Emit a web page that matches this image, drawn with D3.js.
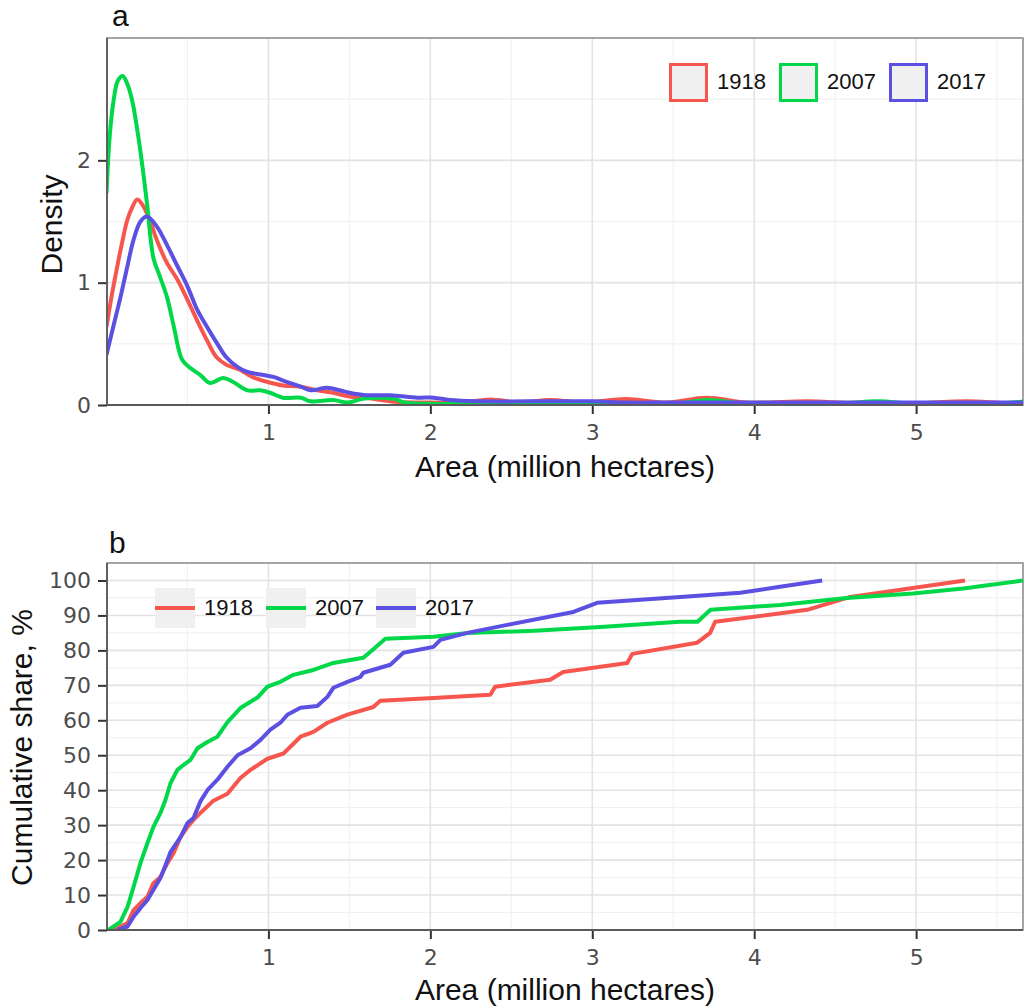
<!DOCTYPE html>
<html>
<head>
<meta charset="utf-8">
<script src="https://cdn.jsdelivr.net/npm/d3@7"></script>
<style>
  html, body { margin: 0; padding: 0; background: #fff; }
  svg { display: block; }
</style>
</head>
<body>
<svg id="chart" width="1025" height="1007"></svg>
<script>
// ---------------- DATA ----------------
const years = ["1918", "2007", "2017"];

// Panel a: density curves [area (million ha), density]
const density1918 = [[0,0.64],[0.033,0.9],[0.066,1.13],[0.1,1.35],[0.128,1.51],[0.16,1.62],[0.19,1.68],[0.23,1.62],[0.27,1.5],[0.31,1.35],[0.37,1.17],[0.44,1.02],[0.5,0.86],[0.56,0.69],[0.62,0.53],[0.68,0.39],[0.74,0.33],[0.82,0.29],[0.9,0.23],[0.99,0.19],[1.09,0.16],[1.2,0.15],[1.3,0.12],[1.4,0.1],[1.5,0.07],[1.6,0.06],[1.7,0.04],[1.8,0.025],[2.0,0.02],[2.2,0.02],[2.37,0.045],[2.55,0.02],[2.74,0.04],[2.95,0.02],[3.21,0.05],[3.45,0.02],[3.71,0.06],[3.95,0.02],[4.33,0.03],[4.6,0.015],[5.0,0.015],[5.31,0.03],[5.55,0.015],[5.7,0.015]];
const density2007 = [[0,1.73],[0.02,2.2],[0.045,2.5],[0.07,2.65],[0.1,2.69],[0.13,2.62],[0.16,2.48],[0.19,2.25],[0.22,1.97],[0.25,1.65],[0.29,1.2],[0.33,1.05],[0.374,0.88],[0.416,0.64],[0.467,0.37],[0.52,0.3],[0.58,0.245],[0.64,0.18],[0.72,0.22],[0.78,0.19],[0.87,0.12],[0.95,0.12],[1.01,0.1],[1.09,0.06],[1.2,0.06],[1.26,0.03],[1.4,0.04],[1.49,0.02],[1.58,0.05],[1.68,0.06],[1.78,0.05],[1.84,0.02],[2.0,0.01],[2.5,0.01],[3.0,0.01],[3.5,0.01],[3.72,0.04],[3.95,0.01],[4.5,0.01],[4.76,0.03],[5.0,0.01],[5.5,0.01],[5.7,0.035]];
const density2017 = [[0,0.41],[0.04,0.63],[0.086,0.88],[0.13,1.14],[0.167,1.35],[0.21,1.5],[0.25,1.54],[0.31,1.46],[0.38,1.29],[0.44,1.13],[0.5,0.97],[0.56,0.78],[0.62,0.64],[0.68,0.51],[0.74,0.39],[0.81,0.31],[0.87,0.27],[0.95,0.25],[1.03,0.23],[1.09,0.2],[1.2,0.15],[1.26,0.12],[1.36,0.14],[1.44,0.12],[1.5,0.1],[1.6,0.08],[1.75,0.08],[1.92,0.06],[2.02,0.06],[2.12,0.04],[2.3,0.03],[2.6,0.03],[3.0,0.03],[3.2,0.02],[3.5,0.02],[4.0,0.02],[4.5,0.02],[5.0,0.02],[5.7,0.02]];

// Panel b: cumulative share [area (million ha), %]
const cum1918 = [[0.043,0],[0.13,2],[0.167,5.7],[0.21,7.7],[0.253,9.5],[0.29,13.4],[0.333,15.2],[0.377,19.2],[0.414,22],[0.457,26.6],[0.5,29.5],[0.537,31.5],[0.58,33.5],[0.66,37],[0.747,39],[0.827,43.5],[0.889,45.8],[0.994,49],[1.093,50.5],[1.198,55.3],[1.278,56.7],[1.364,59.3],[1.488,61.6],[1.648,63.8],[1.691,65.6],[2.02,66.4],[2.37,67.3],[2.40,69.6],[2.74,71.6],[2.82,73.8],[3.216,76.4],[3.247,79],[3.648,82.2],[3.728,85],[3.759,88.2],[4.327,91.6],[4.593,95.3],[5.302,100]];
const cum2007 = [[0.012,0],[0.086,2.3],[0.13,6.6],[0.167,12.3],[0.21,19.2],[0.253,24.9],[0.29,29.5],[0.333,33.5],[0.364,37.2],[0.395,42],[0.438,45.8],[0.475,47.2],[0.519,48.7],[0.562,52],[0.623,53.8],[0.685,55.3],[0.747,59.5],[0.827,63.5],[0.932,66.5],[0.994,69.6],[1.074,71],[1.154,73],[1.278,74.4],[1.401,76.4],[1.586,77.9],[1.63,79.6],[1.722,83.3],[2.02,83.9],[2.23,85],[2.64,85.6],[3.05,86.7],[3.54,88.2],[3.65,88.2],[3.73,91.6],[4.16,93],[4.57,95],[4.98,96.3],[5.29,97.7],[5.66,100]];
const cum2017 = [[0.068,0],[0.13,1],[0.167,3.8],[0.21,6.3],[0.253,8.6],[0.29,11.5],[0.333,14.9],[0.377,20],[0.395,22.3],[0.457,26.6],[0.5,30.6],[0.537,32],[0.58,36.8],[0.623,40],[0.685,43],[0.747,46.7],[0.809,50],[0.889,52],[0.951,54.4],[1.012,57.3],[1.074,59.3],[1.117,61.6],[1.198,63.6],[1.302,64.1],[1.364,66.7],[1.401,69.3],[1.488,71],[1.568,72.4],[1.586,73.6],[1.753,75.9],[1.833,79.3],[2.019,81],[2.062,83],[2.228,85],[2.475,87.3],[2.883,91],[3.03,93.6],[3.543,95.3],[3.914,96.5],[4.16,98.2],[4.42,100]];

const xTicks = [1, 2, 3, 4, 5];
const densityTicks = [0, 1, 2];
const shareTicks = [0, 10, 20, 30, 40, 50, 60, 70, 80, 90, 100];
const xTitle = "Area (million hectares)";
const densityTitle = "Density";
const shareTitle = "Cumulative share, %";

// ---------------- STYLE ----------------
const colors = { "1918": "#F6564E", "2007": "#00D84A", "2017": "#5B50E2" };
const labelFont = "'Liberation Sans', Arial, sans-serif";
const tickFont = "'DejaVu Sans', Verdana, sans-serif";

const svg = d3.select("#chart");
const L = 107, R = 1023;

function drawPanel(cfg) {
  const g = svg.append("g");
  const x = d3.scaleLinear().domain([0, 5.66]).range([106.5, R]);
  const y = d3.scaleLinear().domain(cfg.yDomain).range([cfg.bottom, cfg.top]);

  // minor grid
  const xMinor = d3.range(0.5, 5.6, 1);
  g.selectAll(".vminor").data(xMinor).join("line")
    .attr("x1", d => x(d)).attr("x2", d => x(d))
    .attr("y1", cfg.top).attr("y2", cfg.bottom)
    .attr("stroke", "#f1f1f1").attr("stroke-width", 1.2);
  g.selectAll(".hminor").data(cfg.yMinor).join("line")
    .attr("x1", L).attr("x2", R)
    .attr("y1", d => y(d)).attr("y2", d => y(d))
    .attr("stroke", "#f1f1f1").attr("stroke-width", 1.2);
  // major grid
  g.selectAll(".vmajor").data(xTicks).join("line")
    .attr("x1", d => x(d)).attr("x2", d => x(d))
    .attr("y1", cfg.top).attr("y2", cfg.bottom)
    .attr("stroke", "#e3e3e3").attr("stroke-width", 1.6);
  g.selectAll(".hmajor").data(cfg.yTicks).join("line")
    .attr("x1", L).attr("x2", R)
    .attr("y1", d => y(d)).attr("y2", d => y(d))
    .attr("stroke", "#e3e3e3").attr("stroke-width", 1.6);

  // panel border
  g.append("rect").attr("x", L).attr("y", cfg.top)
    .attr("width", R - L).attr("height", cfg.bottom - cfg.top)
    .attr("fill", "none").attr("stroke", "#8f8f8f").attr("stroke-width", 1.6);

  // lines
  const clipId = "clip" + cfg.name;
  svg.append("clipPath").attr("id", clipId).append("rect")
    .attr("x", L).attr("y", cfg.top - 3).attr("width", R - L).attr("height", cfg.bottom - cfg.top + 3);
  const line = d3.line().x(d => x(d[0])).y(d => y(d[1])).curve(cfg.curve);
  g.append("g").attr("clip-path", `url(#${clipId})`)
    .selectAll("path").data(cfg.series).join("path")
    .attr("d", d => line(d.values))
    .attr("fill", "none")
    .attr("stroke", d => colors[d.year])
    .attr("stroke-width", 4)
    .attr("stroke-linejoin", "round")
    .attr("stroke-linecap", "butt");

  // axes
  const xAxis = g.append("g").attr("transform", `translate(0,${cfg.bottom})`)
    .call(d3.axisBottom(x).tickValues(xTicks).tickFormat(d3.format("d")).tickSize(9).tickPadding(10));
  const yAxis = g.append("g").attr("transform", `translate(${L},0)`)
    .call(d3.axisLeft(y).tickValues(cfg.yTicks).tickFormat(d3.format("d")).tickSize(9).tickPadding(7));
  [xAxis, yAxis].forEach(a => {
    a.select(".domain").remove();
    a.selectAll(".tick line").attr("stroke", "#333").attr("stroke-width", 2);
    a.selectAll(".tick text").attr("fill", "#4d4d4d")
      .style("font-family", tickFont).style("font-size", "22px");
  });
  // axis lines
  g.append("line").attr("x1", L).attr("x2", L).attr("y1", cfg.top).attr("y2", cfg.bottom)
    .attr("stroke", "#5a5a5a").attr("stroke-width", 1.8);
  g.append("line").attr("x1", L).attr("x2", R).attr("y1", cfg.bottom).attr("y2", cfg.bottom)
    .attr("stroke", "#5a5a5a").attr("stroke-width", 1.8);

  // titles
  g.append("text").attr("x", (L + R) / 2).attr("y", cfg.xTitleY)
    .attr("text-anchor", "middle").style("font-family", labelFont).style("font-size", "30px")
    .attr("fill", "#111").text(xTitle);
  g.append("text").attr("transform", `translate(${cfg.yTitleX},${(cfg.top + cfg.bottom) / 2 + cfg.yTitleDy}) rotate(-90)`)
    .attr("text-anchor", "middle").style("font-family", labelFont).style("font-size", "30px")
    .attr("fill", "#111").text(cfg.yTitle);
  g.append("text").attr("x", cfg.tagX).attr("y", cfg.tagY)
    .style("font-family", labelFont).style("font-size", "30px").attr("fill", "#111").text(cfg.name);
  return g;
}

// Panel a
drawPanel({
  name: "a", top: 38, bottom: 405, yDomain: [0, 3.0],
  yTicks: densityTicks, yMinor: [0.5, 1.5, 2.5],
  curve: d3.curveCatmullRom.alpha(0.5),
  series: [{year: "1918", values: density1918}, {year: "2007", values: density2007}, {year: "2017", values: density2017}],
  xTitleY: 477, yTitle: densityTitle, yTitleX: 62, yTitleDy: 3, tagX: 112, tagY: 26
});

// Panel b
drawPanel({
  name: "b", top: 563, bottom: 930, yDomain: [0, 105],
  yTicks: shareTicks, yMinor: d3.range(5, 100, 10),
  curve: d3.curveLinear,
  series: [{year: "1918", values: cum1918}, {year: "2007", values: cum2007}, {year: "2017", values: cum2017}],
  xTitleY: 1000, yTitle: shareTitle, yTitleX: 32, yTitleDy: 1, tagX: 109, tagY: 553
});

// Legend a (boxes)
const legA = svg.append("g");
const legAx = [669, 779, 889];
years.forEach((yr, i) => {
  legA.append("rect").attr("x", legAx[i] + 1.5).attr("y", 64.5).attr("width", 36).attr("height", 36)
    .attr("fill", "#f0f0f0").attr("stroke", colors[yr]).attr("stroke-width", 3);
  legA.append("text").attr("x", legAx[i] + 48).attr("y", 89)
    .style("font-family", labelFont).style("font-size", "22px").attr("fill", "#111").text(yr);
});

// Legend b (lines)
const legB = svg.append("g");
const legBx = [155, 266, 376];
years.forEach((yr, i) => {
  legB.append("rect").attr("x", legBx[i]).attr("y", 588).attr("width", 40).attr("height", 40)
    .attr("fill", "#f0f0f0");
  legB.append("line").attr("x1", legBx[i]).attr("x2", legBx[i] + 40).attr("y1", 608).attr("y2", 608)
    .attr("stroke", colors[yr]).attr("stroke-width", 4);
  legB.append("text").attr("x", legBx[i] + 49).attr("y", 615)
    .style("font-family", labelFont).style("font-size", "22px").attr("fill", "#111").text(yr);
});
</script>
</body>
</html>
